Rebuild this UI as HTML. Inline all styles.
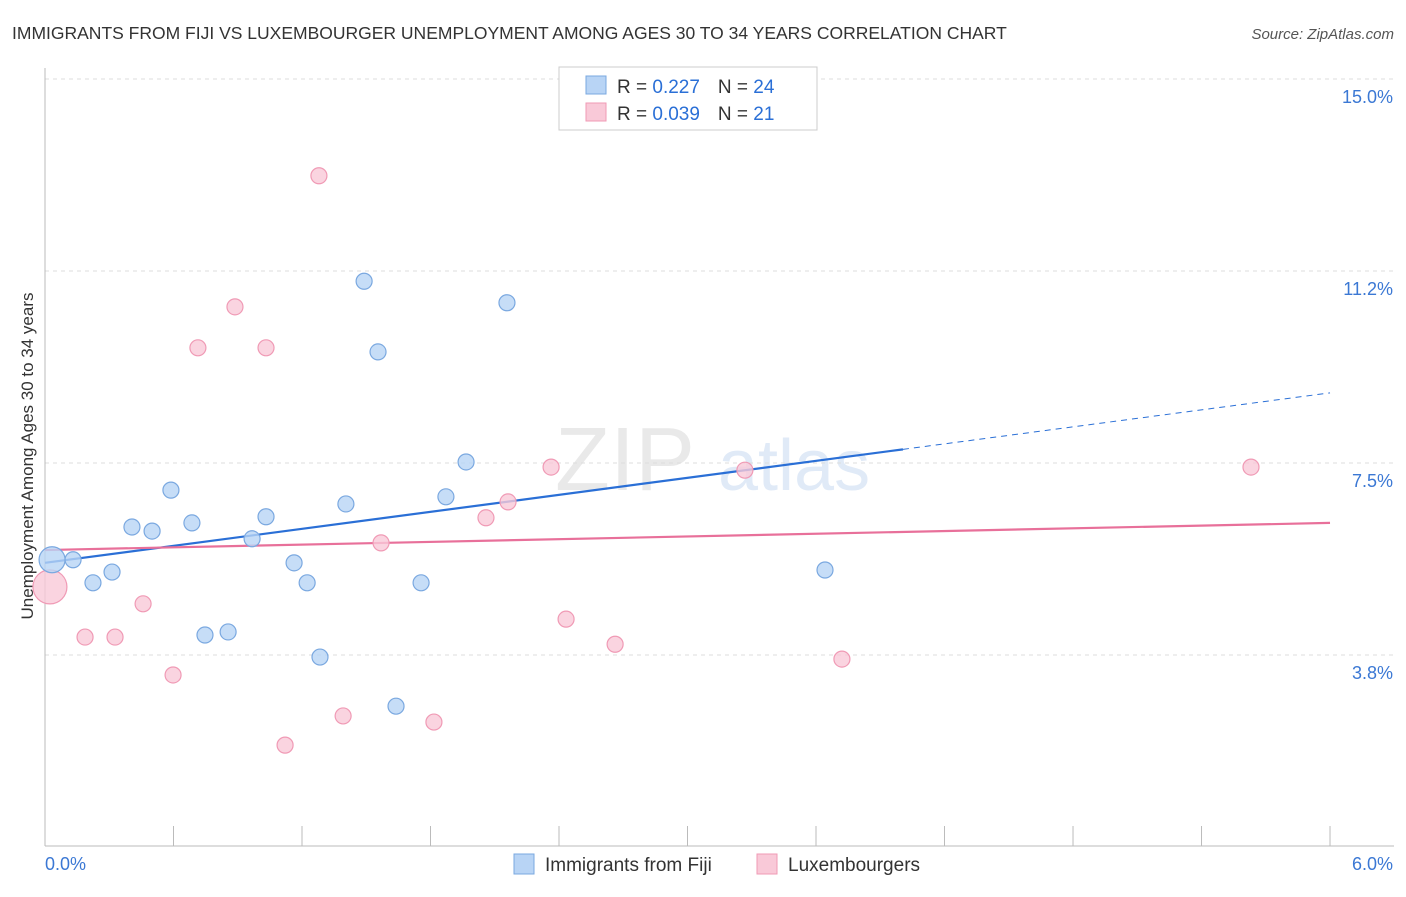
<!DOCTYPE html>
<html><head><meta charset="utf-8"><style>
body{margin:0;background:#fff;font-family:"Liberation Sans",sans-serif;}
svg text{font-family:"Liberation Sans",sans-serif;}
</style></head><body>
<svg id="chart" width="1406" height="892" xmlns="http://www.w3.org/2000/svg">
<text x="12" y="39" font-size="17.5" fill="#333">IMMIGRANTS FROM FIJI VS LUXEMBOURGER UNEMPLOYMENT AMONG AGES 30 TO 34 YEARS CORRELATION CHART</text>
<text x="1394" y="39" font-size="15" fill="#555" text-anchor="end" font-style="italic">Source: ZipAtlas.com</text>
<text transform="translate(33,456) rotate(-90)" font-size="17" fill="#333" text-anchor="middle">Unemployment Among Ages 30 to 34 years</text>
<g opacity="0.18">
<text x="555" y="490" font-size="90" font-family="Liberation Serif" fill="#888">ZIP</text>
<text x="718" y="490" font-size="72" fill="#5b8fd6">atlas</text>
</g>
<g id="grid"></g><g id="axes"></g><g id="lines"></g><g id="pts"></g>
<g>
<rect x="559" y="67" width="258" height="63" fill="#fff" stroke="#ccc"/>
<rect x="586" y="76" width="20" height="18" fill="#b8d4f5" stroke="#7aa8e0"/>
<rect x="586" y="103" width="20" height="18" fill="#f9c9d8" stroke="#f09ab5"/>
<text x="617" y="93" font-size="19" fill="#333">R = <tspan fill="#2a6fd6"> 0.227</tspan><tspan dx="18">N = </tspan><tspan fill="#2a6fd6">24</tspan></text>
<text x="617" y="120" font-size="19" fill="#333">R = <tspan fill="#2a6fd6">0.039</tspan><tspan dx="18">N = </tspan><tspan fill="#2a6fd6"> 21</tspan></text>
</g>
<g>
<rect x="514" y="854" width="20" height="20" fill="#b8d4f5" stroke="#7aa8e0"/>
<text x="545" y="871" font-size="19" fill="#333">Immigrants from Fiji</text>
<rect x="757" y="854" width="20" height="20" fill="#f9c9d8" stroke="#f09ab5"/>
<text x="788" y="871" font-size="19" fill="#333">Luxembourgers</text>
</g>
</svg>
<script>
const yTicks=[3.75,7.5,11.25,15];
const yTickLabels=["3.8%","7.5%","11.2%","15.0%"];
const xTickLabels=["0.0%","6.0%"];
const fijiX=[0.033,0.131,0.224,0.313,0.406,0.500,0.588,0.686,0.747,0.855,0.967,1.032,1.163,1.224,1.284,1.405,1.490,1.555,1.639,1.756,1.872,1.966,2.157,3.642];
const fijiY=[5.61,5.61,5.16,5.37,6.25,6.17,6.97,6.33,4.14,4.20,6.02,6.45,5.55,5.16,3.71,6.70,11.05,9.67,2.75,5.16,6.84,7.52,10.63,5.41];
const luxX=[0.023,0.187,0.327,0.458,0.598,0.714,0.887,1.032,1.121,1.279,1.392,1.569,1.816,2.059,2.162,2.363,2.433,2.662,3.268,3.721,5.631];
const luxY=[5.08,4.10,4.10,4.75,3.36,9.75,10.55,9.75,1.99,13.11,2.56,5.94,2.44,6.43,6.74,7.42,4.45,3.96,7.36,3.67,7.42];
const fijiTrend=[5.55,8.87];
const luxTrend=[5.80,6.33];
const NS="http://www.w3.org/2000/svg";
const X=v=>45+v*214.17, Y=v=>847-v*51.2;
function mk(p,t,a){const e=document.createElementNS(NS,t);for(const k in a)e.setAttribute(k,a[k]);document.getElementById(p).appendChild(e);return e;}
yTicks.forEach((t,i)=>{
 let l=mk('grid','line',{x1:45,x2:1394,y1:Y(t),y2:Y(t),stroke:'#ddd','stroke-dasharray':'4,4'});
 
 
 let tx=mk('grid','text',{x:1393,y:Y(t)+24,'text-anchor':'end','font-size':18,fill:'#3b78d4'});
 tx.textContent=yTickLabels[i];
 
 
});
let tl=mk('grid','line',{x1:45,x2:1394,y1:Y(15),y2:Y(15),stroke:'#ddd','stroke-dasharray':'4,4'});
let ax=mk('axes','line',{x1:45,x2:45,y1:68,y2:846,stroke:'#bbb'});


let bx=mk('axes','line',{x1:45,x2:1394,y1:846,y2:846,stroke:'#bbb'});


for(let i=0;i<=10;i++){let t=mk('axes','line',{x1:X(i*0.6),x2:X(i*0.6),y1:826,y2:846,stroke:'#bbb'});
 
 }
[[0,45,'start'],[6,1393,'end']].forEach((d,i)=>{let t=mk('axes','text',{x:d[1],y:870,'text-anchor':d[2],'font-size':18,fill:'#3b78d4'});t.textContent=xTickLabels[i];
 
 });
const fs=4.006, fe=fijiTrend[0]+(fijiTrend[1]-fijiTrend[0])*fs/6;
let l1=mk('lines','line',{x1:X(0),y1:Y(fijiTrend[0]),x2:X(fs),y2:Y(fe),stroke:'#2a6fd6','stroke-width':2.2});


let l2=mk('lines','line',{x1:X(fs),y1:Y(fe),x2:X(6),y2:Y(fijiTrend[1]),stroke:'#2a6fd6','stroke-width':1,'stroke-dasharray':'6,5'});


let l3=mk('lines','line',{x1:X(0),y1:Y(luxTrend[0]),x2:X(6),y2:Y(luxTrend[1]),stroke:'#e8709a','stroke-width':2.2});


function pts(xs,ys,fill,stroke,name){xs.forEach((x,i)=>{let c=mk('pts','circle',{cx:X(x),cy:Y(ys[i]),r:i===0?(name==='lux-point'?17:13):8,fill:fill,stroke:stroke,'stroke-width':1.2,'fill-opacity':0.8});
 
 });}
pts(luxX,luxY,'#f9c9d8','#f09ab5','lux-point');
pts(fijiX,fijiY,'#b8d4f5','#7aa8e0','fiji-point');
</script>
</body></html>
